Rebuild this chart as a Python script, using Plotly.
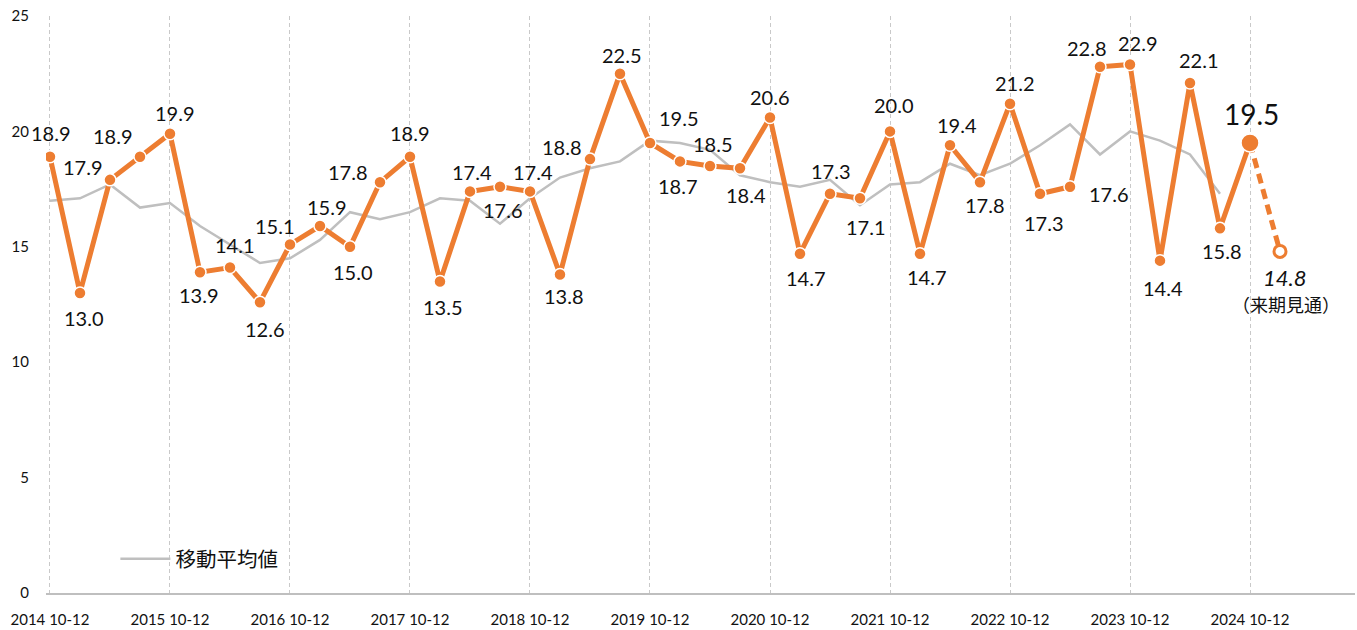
import plotly.graph_objects as go

# ---------------- data ----------------
quarters = [
    "2014 10-12",
    "2015 1-3", "2015 4-6", "2015 7-9", "2015 10-12",
    "2016 1-3", "2016 4-6", "2016 7-9", "2016 10-12",
    "2017 1-3", "2017 4-6", "2017 7-9", "2017 10-12",
    "2018 1-3", "2018 4-6", "2018 7-9", "2018 10-12",
    "2019 1-3", "2019 4-6", "2019 7-9", "2019 10-12",
    "2020 1-3", "2020 4-6", "2020 7-9", "2020 10-12",
    "2021 1-3", "2021 4-6", "2021 7-9", "2021 10-12",
    "2022 1-3", "2022 4-6", "2022 7-9", "2022 10-12",
    "2023 1-3", "2023 4-6", "2023 7-9", "2023 10-12",
    "2024 1-3", "2024 4-6", "2024 7-9", "2024 10-12",
]
forecast_quarter = "2025 1-3"

actual_values = [
    18.9, 13.0, 17.9, 18.9, 19.9,
    13.9, 14.1, 12.6, 15.1,
    15.9, 15.0, 17.8, 18.9,
    13.5, 17.4, 17.6, 17.4,
    13.8, 18.8, 22.5, 19.5,
    18.7, 18.5, 18.4, 20.6,
    14.7, 17.3, 17.1, 20.0,
    14.7, 19.4, 17.8, 21.2,
    17.3, 17.6, 22.8, 22.9,
    14.4, 22.1, 15.8, 19.5,
]
forecast_value = 14.8
forecast_note = "（来期見通）"

moving_avg = [
    17.0, 17.1, 17.7, 16.7, 16.9,
    15.9, 15.1, 14.3, 14.5,
    15.3, 16.5, 16.2, 16.5,
    17.1, 17.0, 16.0, 17.1,
    18.0, 18.4, 18.7, 19.6,
    19.5, 19.2, 18.1, 17.8,
    17.6, 17.9, 16.8, 17.7,
    17.8, 18.6, 18.1, 18.6,
    19.4, 20.3, 19.0, 20.0,
    19.6, 19.0, 17.3,
]
moving_avg_name = "移動平均値"

tick_labels = [
    "2014 10-12", "2015 10-12", "2016 10-12", "2017 10-12", "2018 10-12",
    "2019 10-12", "2020 10-12", "2021 10-12", "2022 10-12", "2023 10-12",
    "2024 10-12",
]
y_ticks = [0, 5, 10, 15, 20, 25]

# label offsets (pixels: dx right, dy down) from each point
label_offsets = [
    (1, -24), (4, 25), (-27, -13), (-27, -21), (5, -21),
    (-1, 23), (5, -23), (5, 27), (-15, -18),
    (7, -19), (3, 25), (-32, -10), (0, -24),
    (3, 26), (2, -19), (3, 23), (3, -19),
    (4, 21), (-28, -12), (2, -19), (29, -25),
    (-2, 25), (3, -22), (6, 27), (0, -21),
    (6, 24), (1, -23), (6, 29), (4, -26),
    (7, 23), (7, -20), (5, 23), (5, -21),
    (4, 29), (39, 7), (-13, -19), (8, -21),
    (3, 27), (9, -23), (2, 23), (1, -29),
]

ORANGE = "#ED7D31"
GRAY = "#BFBFBF"
TXT = "#111111"
NUM_FONT = "Lato, 'Noto Sans', sans-serif"
CJK_FONT = "'Noto Sans CJK JP', sans-serif"

fig = go.Figure()

fig.add_trace(go.Scatter(
    x=quarters[:len(moving_avg)], y=moving_avg, mode="lines",
    name=moving_avg_name, line=dict(color=GRAY, width=2.5),
    showlegend=True, hoverinfo="skip",
))

fig.add_trace(go.Scatter(
    x=[quarters[-1], forecast_quarter], y=[actual_values[-1], forecast_value],
    mode="lines", line=dict(color=ORANGE, width=5, dash="10px,6px"),
    showlegend=False,
))

fig.add_trace(go.Scatter(
    x=quarters, y=actual_values, mode="lines+markers",
    line=dict(color=ORANGE, width=5),
    marker=dict(size=12, color=ORANGE, line=dict(color="white", width=1.5)),
    showlegend=False,
))

fig.add_trace(go.Scatter(
    x=[quarters[-1]], y=[actual_values[-1]], mode="markers",
    marker=dict(size=18, color=ORANGE, line=dict(color="white", width=1.5)),
    showlegend=False,
))

fig.add_trace(go.Scatter(
    x=[forecast_quarter], y=[forecast_value], mode="markers",
    marker=dict(size=12, color="white", line=dict(color=ORANGE, width=3)),
    showlegend=False,
))

annotations = []
for i, (q, v) in enumerate(zip(quarters, actual_values)):
    dx, dy = label_offsets[i]
    big = i == len(actual_values) - 1
    annotations.append(dict(
        x=q, y=v, xref="x", yref="y", text=f"{v:.1f}", showarrow=False,
        xanchor="center", yanchor="middle", xshift=dx, yshift=-dy,
        font=dict(family=NUM_FONT, size=28 if big else 20, color=TXT),
    ))
annotations.append(dict(
    x=forecast_quarter, y=forecast_value, xref="x", yref="y",
    text=f"<i>{forecast_value:.1f}</i>", showarrow=False,
    xanchor="center", yanchor="middle", xshift=4, yshift=-26,
    font=dict(family=NUM_FONT, size=22, color=TXT),
))
annotations.append(dict(
    x=forecast_quarter, y=forecast_value, xref="x", yref="y",
    text=forecast_note, showarrow=False,
    xanchor="center", yanchor="middle", xshift=6, yshift=-53,
    font=dict(family=CJK_FONT, size=18, color=TXT),
))

fig.update_layout(
    width=1357, height=630,
    margin=dict(l=46, r=2, t=16, b=37),
    paper_bgcolor="white", plot_bgcolor="white",
    annotations=annotations,
    legend=dict(
        x=0.053, y=0.059, xanchor="left", yanchor="middle",
        font=dict(family=CJK_FONT, size=20.5, color=TXT),
        bgcolor="rgba(0,0,0,0)", itemwidth=50,
    ),
    hovermode=False,
)

fig.update_xaxes(
    type="category",
    categoryorder="array", categoryarray=quarters + [forecast_quarter],
    range=[-0.133, 43.5],
    tickvals=tick_labels, ticktext=tick_labels,
    showgrid=True, gridcolor="#C9C9C9", griddash="4px,3px", gridwidth=1,
    showline=True, linecolor="#BFBFBF", linewidth=1.5,
    ticks="", ticklabelstandoff=12,
    tickfont=dict(family=NUM_FONT, size=15, color=TXT),
    zeroline=False,
)
fig.update_yaxes(
    range=[0, 25], tickvals=y_ticks,
    showgrid=False, zeroline=False, showline=False,
    ticks="", ticklabelstandoff=16,
    tickfont=dict(family=NUM_FONT, size=15, color=TXT),
)

fig.write_html("out.html", config={"displayModeBar": False},
               post_script="document.body.style.margin='0';")
